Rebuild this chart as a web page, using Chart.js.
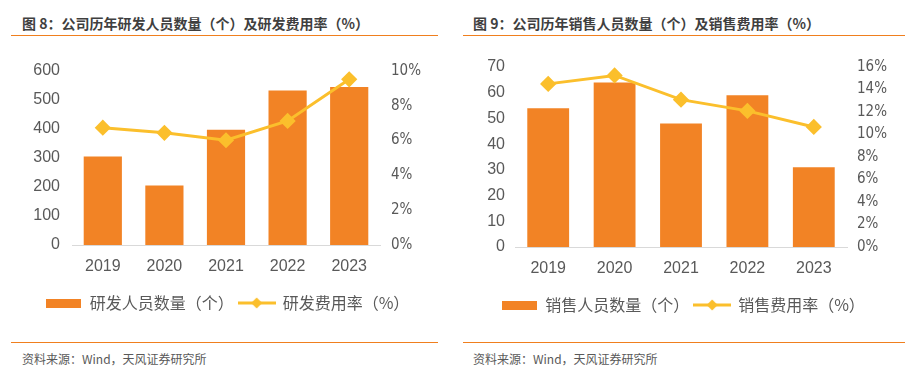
<!DOCTYPE html>
<html>
<head>
<meta charset="utf-8">
<script src="https://cdn.jsdelivr.net/npm/chart.js@4/dist/chart.umd.min.js"></script>
<style>
  html, body { margin: 0; padding: 0; background: #fff; }
  body { width: 911px; height: 383px; position: relative; overflow: hidden; font-family: "Noto Sans CJK SC", sans-serif; }
  .title { position: absolute; top: 13px; font-size: 14px; line-height: 20px; font-weight: bold; color: #3f3f3f; white-space: nowrap; }
  .rule { position: absolute; height: 1px; background: #F07F1E; }
  .src { position: absolute; top: 350px; font-size: 12px; line-height: 18px; color: #595959; white-space: nowrap; }
  .box { position: absolute; top: 45px; height: 290px; }
</style>
</head>
<body>
<div class="title" style="left:22px">图 8：公司历年研发人员数量（个）及研发费用率（%）</div>
<div class="title" style="left:473px">图 9：公司历年销售人员数量（个）及销售费用率（%）</div>
<div class="rule" style="left:11px;width:427px;top:35px"></div>
<div class="rule" style="left:463px;width:442px;top:35px"></div>
<div class="box" style="left:0;width:455px"><canvas id="c1"></canvas></div>
<div class="box" style="left:455px;width:456px"><canvas id="c2"></canvas></div>
<div class="rule" style="left:11px;width:427px;top:342px"></div>
<div class="rule" style="left:463px;width:442px;top:342px"></div>
<div class="src" style="left:22px">资料来源：Wind，天风证券研究所</div>
<div class="src" style="left:473px">资料来源：Wind，天风证券研究所</div>
<script>
// ---- Data ----
const years = ['2019', '2020', '2021', '2022', '2023'];
const rdStaff = [305, 205, 397, 533, 545];
const rdRate = [6.74, 6.45, 6.02, 7.13, 9.52];
const salesStaff = [54, 64, 48, 59, 31];
const salesRate = [14.5, 15.25, 13.1, 12.1, 10.67];
const rdLabels = ['研发人员数量（个）', '研发费用率（%）'];
const salesLabels = ['销售人员数量（个）', '销售费用率（%）'];

// ---- Styles ----
const BAR = '#F28325';
const LINE = '#FBBF2C';
const TICK = '#595959';
const NUM_FONT = '"Liberation Sans", Arial, sans-serif';
const PCT_FONT = '"Liberation Sans Narrow", "Arial Narrow", "DejaVu Sans Condensed", "Liberation Sans", sans-serif';
const CJK_FONT = '"Noto Sans CJK SC", sans-serif';

function barIcon() {
  const c = document.createElement('canvas');
  c.width = 35; c.height = 9;
  const g = c.getContext('2d');
  g.fillStyle = BAR; g.fillRect(0, 0, 35, 9);
  return c;
}
function lineIcon() {
  const c = document.createElement('canvas');
  c.width = 38; c.height = 12;
  const g = c.getContext('2d');
  g.strokeStyle = LINE; g.lineWidth = 3;
  g.beginPath(); g.moveTo(0, 6); g.lineTo(38, 6); g.stroke();
  g.fillStyle = LINE;
  g.beginPath(); g.moveTo(19, 0.5); g.lineTo(24.5, 6); g.lineTo(19, 11.5); g.lineTo(13.5, 6); g.closePath(); g.fill();
  return c;
}
const icons = [barIcon(), lineIcon()];

function makeChart(id, cfg) {
  return new Chart(document.getElementById(id), {
    data: {
      labels: years,
      datasets: [
        { type: 'bar', label: cfg.names[0], data: cfg.bars, backgroundColor: BAR, yAxisID: 'y',
          categoryPercentage: 1, barPercentage: cfg.barPct, order: 2 },
        { type: 'line', label: cfg.names[1], data: cfg.rates, borderColor: LINE, backgroundColor: LINE,
          borderWidth: 3, pointStyle: 'rectRot', pointRadius: 6, pointHoverRadius: 6,
          pointBackgroundColor: LINE, pointBorderColor: LINE, tension: 0, yAxisID: 'y1', order: 1 }
      ]
    },
    options: {
      responsive: true, maintainAspectRatio: false, animation: false,
      layout: { padding: { top: cfg.padTop, bottom: cfg.padBottom, left: 0, right: 0 } },
      plugins: {
        tooltip: { enabled: false },
        legend: {
          position: 'bottom',
          labels: {
            usePointStyle: true, pointStyleWidth: 36, padding: 5,
            color: TICK, font: { family: CJK_FONT, size: 16 },
            sort: (a, b) => a.datasetIndex - b.datasetIndex,
            generateLabels: (chart) => {
              const items = Chart.defaults.plugins.legend.labels.generateLabels(chart);
              items.forEach(it => { it.pointStyle = icons[it.datasetIndex]; });
              return items;
            }
          }
        }
      },
      scales: {
        x: {
          grid: { display: false, drawTicks: false },
          border: { display: true, color: '#D9D9D9', width: 1 },
          ticks: { color: TICK, font: { family: NUM_FONT, size: 16 }, padding: 12 },
          afterFit: (s) => { s.height = 45; }
        },
        y: {
          position: 'left', min: 0, max: cfg.yMax,
          grid: { display: false, drawTicks: false }, border: { display: false },
          ticks: { stepSize: cfg.yStep, color: TICK, font: { family: NUM_FONT, size: 16 }, padding: cfg.yPad },
          afterFit: (s) => { s.width = cfg.yWidth; }
        },
        y1: {
          position: 'right', min: 0, max: cfg.rMax,
          grid: { display: false, drawTicks: false }, border: { display: false },
          ticks: { stepSize: 2, color: TICK, font: { family: PCT_FONT, size: 15 }, padding: cfg.rPad,
                   callback: (v) => v + '%' },
          afterFit: (s) => { s.width = cfg.rWidth; }
        }
      }
    }
  });
}

makeChart('c1', { names: rdLabels, bars: rdStaff, rates: rdRate, barPct: 0.62,
  yMax: 600, yStep: 100, rMax: 10, padTop: 26, padBottom: 14,
  yWidth: 72, yPad: 12, rWidth: 75, rPad: 11 });
makeChart('c2', { names: salesLabels, bars: salesStaff, rates: salesRate, barPct: 0.63,
  yMax: 70, yStep: 10, rMax: 16, padTop: 22, padBottom: 12,
  yWidth: 60, yPad: 10, rWidth: 64, rPad: 10 });
</script>
</body>
</html>
